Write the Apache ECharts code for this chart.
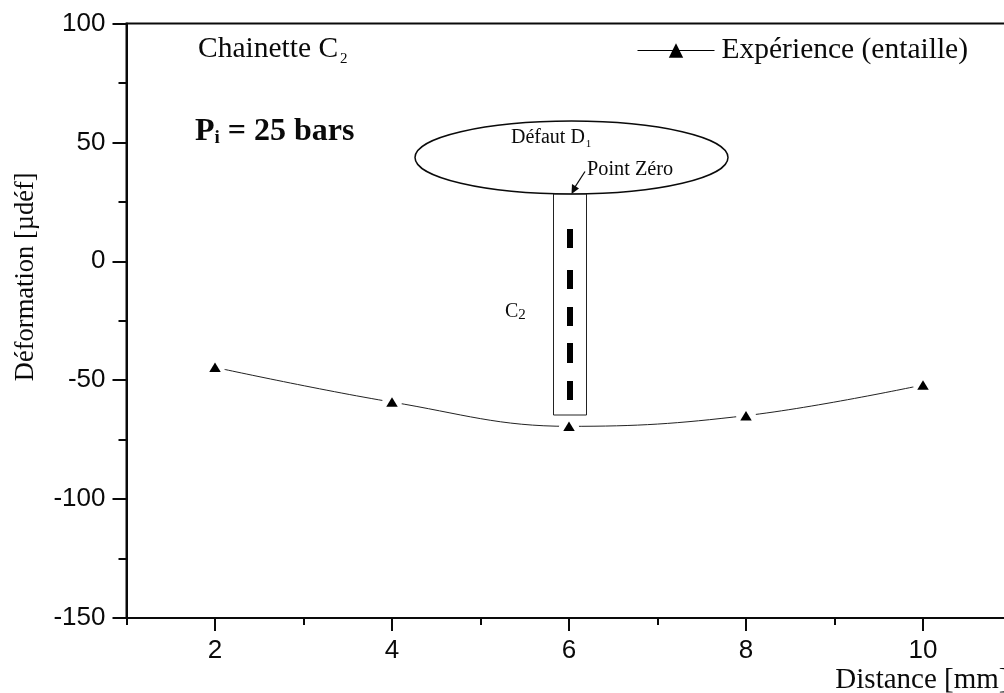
<!DOCTYPE html>
<html><head><meta charset="utf-8">
<style>html,body{margin:0;padding:0;background:#fff;overflow:hidden}#c{width:1004px;height:693px}</style>
<script src="https://cdn.jsdelivr.net/npm/echarts@6/dist/echarts.min.js"></script></head>
<body><div id="c"></div>
<script>
const distances = [2, 4, 6, 8, 10];
const deformation = [-44.6, -59.2, -69.4, -64.9, -52];
const majorXTicks = [2, 4, 6, 8, 10];
const minorXTicks = [1, 3, 5, 7, 9, 11];
const seriesName = 'Expérience (entaille)';
const pairs = distances.map((d, i) => [d, deformation[i]]);
const serif = '"Liberation Serif"', sans = '"Liberation Sans"', ink = '#0a0a0a';
const dashes = [[229, 248], [270, 289], [307, 326], [343, 363], [381, 400]];
const txt = (x, y, text, font, extra) => ({type: 'text', x, y, z: 20, style: Object.assign({text, fill: ink, font}, extra || {})});
const chart = echarts.init(document.getElementById('c'), null, {renderer: 'canvas'});
chart.setOption({
  animation: false, backgroundColor: '#fff',
  grid: {left: 126.5, top: 23.5, width: 885, height: 594.5, show: true, borderColor: ink, borderWidth: 2, backgroundColor: 'transparent', outerBoundsMode: 'none', containLabel: false},
  legend: {left: 632, top: 30.5, show: true, data: [{name: seriesName}], itemWidth: 77, itemHeight: 18, itemGap: 0,
    lineStyle: {width: 1, color: '#000'},
    textStyle: {fontFamily: serif, fontSize: 29.5, color: ink, padding: [2, 0, 0, 2]}},
  xAxis: [
    {type: 'value', min: 1, max: 11, interval: 1, position: 'bottom', splitLine: {show: false},
     name: 'Distance [mm]', nameLocation: 'end', nameGap: -3,
     nameTextStyle: {fontFamily: serif, fontSize: 29, color: ink, align: 'right', verticalAlign: 'top', padding: [48, 0, 0, 0]},
     axisLine: {show: true, onZero: false, lineStyle: {color: ink, width: 2}},
     axisTick: {show: true, length: 13, customValues: majorXTicks, lineStyle: {color: ink, width: 2}},
     axisLabel: {show: true, customValues: majorXTicks, margin: 20, fontFamily: sans, fontSize: 26, color: ink}},
    {type: 'value', min: 1, max: 11, interval: 1, position: 'bottom', splitLine: {show: false},
     axisLine: {show: false, onZero: false},
     axisTick: {show: true, length: 7, customValues: minorXTicks, lineStyle: {color: ink, width: 2}},
     axisLabel: {show: false}}
  ],
  yAxis: {type: 'value', min: -150, max: 100, interval: 50, splitLine: {show: false},
    name: 'Déformation [µdéf]', nameLocation: 'middle', nameGap: 87, nameRotate: 90,
    nameTextStyle: {fontFamily: serif, fontSize: 26.5, color: ink, padding: [0, 0, 0, 88]},
    axisLine: {show: true, onZero: false, lineStyle: {color: ink, width: 2}},
    axisTick: {show: true, length: 14, lineStyle: {color: ink, width: 2}},
    minorTick: {show: true, splitNumber: 2, length: 8, lineStyle: {color: ink, width: 2}},
    axisLabel: {margin: 21, fontFamily: sans, fontSize: 26, color: ink}},
  series: [
    {name: seriesName, type: 'line', data: pairs, smooth: 0.4, z: 2, symbol: 'triangle', symbolSize: [14, 11], showSymbol: true,
     lineStyle: {color: '#222', width: 1}, itemStyle: {color: '#000'}},
    {name: 'mask', type: 'scatter', data: pairs, symbol: 'circle', symbolSize: 20, z: 3, silent: true, itemStyle: {color: '#fff', opacity: 1}},
    {name: 'markers', type: 'scatter', data: pairs, symbol: 'triangle', symbolSize: [11.5, 9.5], z: 4, silent: true, itemStyle: {color: '#000', opacity: 1}}
  ],
  graphic: {elements: [
    {type: 'ellipse', z: 10, shape: {cx: 571.5, cy: 157.5, rx: 156.5, ry: 36.5}, style: {fill: 'none', stroke: ink, lineWidth: 1.5}},
    {type: 'rect', z: 10, shape: {x: 553.5, y: 194, width: 33, height: 221}, style: {fill: 'none', stroke: '#222', lineWidth: 1}},
  ].concat(dashes.map(d => ({type: 'rect', z: 10, shape: {x: 567, y: d[0], width: 6, height: d[1] - d[0]}, style: {fill: '#000'}}))).concat([
    {type: 'line', z: 10, shape: {x1: 585, y1: 171.5, x2: 575, y2: 187}, style: {stroke: ink, lineWidth: 1.3}},
    {type: 'polygon', z: 10, shape: {points: [[571.5, 194], [572, 184], [579, 188.5]]}, style: {fill: ink}},
    {type: 'text', z: 20, x: 198, y: 33, style: {text: '{a|Chainette C}{b|2}', fill: ink, rich: {
      a: {fontFamily: serif, fontSize: 29.5, fill: ink, lineHeight: 32},
      b: {fontFamily: serif, fontSize: 15, fill: ink, lineHeight: 32, padding: [20, 0, 0, 2]}}}},
    {type: 'text', z: 20, x: 195, y: 114, style: {text: '{a|P}{b|i}{a| = 25 bars}', fill: ink, rich: {
      a: {fontFamily: serif, fontSize: 32, fontWeight: 'bold', fill: ink, lineHeight: 36},
      b: {fontFamily: serif, fontSize: 19, fontWeight: 'bold', fill: ink, lineHeight: 36, padding: [13, 0, 0, 0]}}}},
    {type: 'text', z: 20, x: 511, y: 127, style: {text: '{a|Défaut D}{b|1}', fill: ink, rich: {
      a: {fontFamily: serif, fontSize: 20, fill: ink, lineHeight: 22},
      b: {fontFamily: serif, fontSize: 11, fill: ink, lineHeight: 22, padding: [12, 0, 0, 1]}}}},
    txt(587, 160, 'Point Zéro', '20.3px ' + serif),
    {type: 'text', z: 20, x: 505, y: 301, style: {text: '{a|C}{b|2}', fill: ink, rich: {
      a: {fontFamily: serif, fontSize: 20, fill: ink, lineHeight: 22},
      b: {fontFamily: serif, fontSize: 15, fill: ink, lineHeight: 22, padding: [6, 0, 0, 0]}}}}
  ])}
});
</script></body></html>
